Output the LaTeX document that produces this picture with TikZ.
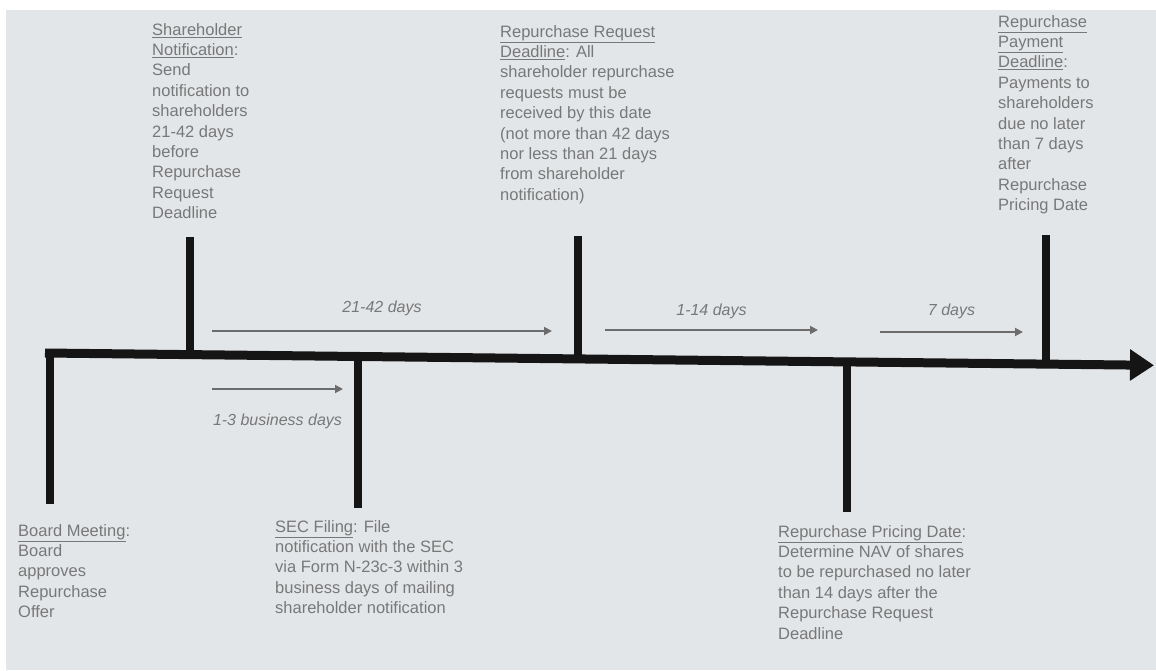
\documentclass[tikz,border=0pt]{standalone}
\usepackage{fontspec}
\setmainfont{Liberation Sans}
\usetikzlibrary{arrows.meta,positioning}
\definecolor{bggray}{HTML}{E3E6E9}
\definecolor{txtgray}{HTML}{787878}
\definecolor{spangray}{HTML}{6C6C6C}
\definecolor{lineblack}{HTML}{151515}

\begin{document}
\begin{tikzpicture}[x=1pt, y=-1pt,
        event/.style={anchor=north west, inner sep=0pt, align=left, text=txtgray, font=\fontsize{16.5}{20.4}\selectfont},
        tick/.style={draw=lineblack, line width=8pt},
        span/.style={-{Triangle[length=8pt, width=8pt]}, draw=spangray, line width=1.8pt},
        spanlabel/.style={text=txtgray, font=\fontsize{16}{18}\selectfont\itshape}
    ]
    % Fundo
    \useasboundingbox[fill=white] (0,0) rectangle (1156,670);
    \fill[bggray] (6,10) rectangle (1156,670);

    % Linha do tempo
    \coordinate (t0) at (45,353);
    \coordinate (t1) at (1154,365.3);
    \draw[draw=lineblack, line width=9pt, -{Triangle[length=24pt, width=30pt]}] (t0) -- (t1);

    % Marcos (pontos na linha e pontas)
    \coordinate (bm) at (50,353.1);    \coordinate (bmend) at (50,504);
    \coordinate (sn) at (190,354.6);   \coordinate (snend) at (190,237);
    \coordinate (sec) at (358,356.5);  \coordinate (secend) at (358,508);
    \coordinate (rrd) at (578,358.9);  \coordinate (rrdend) at (578,236);
    \coordinate (rpd) at (847,361.9);  \coordinate (rpdend) at (847,512);
    \coordinate (pay) at (1046,364);   \coordinate (payend) at (1046,235);

    \draw[tick] (bm) -- (bmend);
    \draw[tick] (sn) -- (snend);
    \draw[tick] (sec) -- (secend);
    \draw[tick] (rrd) -- (rrdend);
    \draw[tick] (rpd) -- (rpdend);
    \draw[tick] (pay) -- (payend);

    % Textos acima da linha
    \node[event] (snote) at (152,23) {\underline{Shareholder}\\ \underline{Notification}:\\ Send\\ notification to\\ shareholders\\ 21-42 days\\ before\\ Repurchase\\ Request\\ Deadline};
    \node[event] (rrdnote) at (500,25) {\underline{Repurchase Request}\\ \underline{Deadline}: All\\ shareholder repurchase\\ requests must be\\ received by this date\\ (not more than 42 days\\ nor less than 21 days\\ from shareholder\\ notification)};
    \node[event] (paynote) at (998,15) {\underline{Repurchase}\\ \underline{Payment}\\ \underline{Deadline}:\\ Payments to\\ shareholders\\ due no later\\ than 7 days\\ after\\ Repurchase\\ Pricing Date};

    % Textos abaixo da linha
    \node[event] (bmnote) at (18,524) {\underline{Board Meeting}:\\ Board\\ approves\\ Repurchase\\ Offer};
    \node[event] (secnote) at (275,520) {\underline{SEC Filing}: File\\ notification with the SEC\\ via Form N-23c-3 within 3\\ business days of mailing\\ shareholder notification};
    \node[event] (rpdnote) at (778,525) {\underline{Repurchase Pricing Date}:\\ Determine NAV of shares\\ to be repurchased no later\\ than 14 days after the\\ Repurchase Request\\ Deadline};

    % Intervalos
    \coordinate (s1a) at (212,331);  \coordinate (s1b) at (552,331);
    \coordinate (s2a) at (212,389);  \coordinate (s2b) at (343,389);
    \coordinate (s3a) at (605,330);  \coordinate (s3b) at (818,330);
    \coordinate (s4a) at (880,332);  \coordinate (s4b) at (1023,332);

    \draw[span] (s1a) -- node[spanlabel, above=11pt] (l1) {21-42 days} (s1b);
    \draw[span] (s2a) -- node[spanlabel, below=21pt] (l2) {1-3 business days} (s2b);
    \draw[span] (s3a) -- node[spanlabel, above=7pt] (l3) {1-14 days} (s3b);
    \draw[span] (s4a) -- node[spanlabel, above=9pt] (l4) {7 days} (s4b);

\end{tikzpicture}
\end{document}
